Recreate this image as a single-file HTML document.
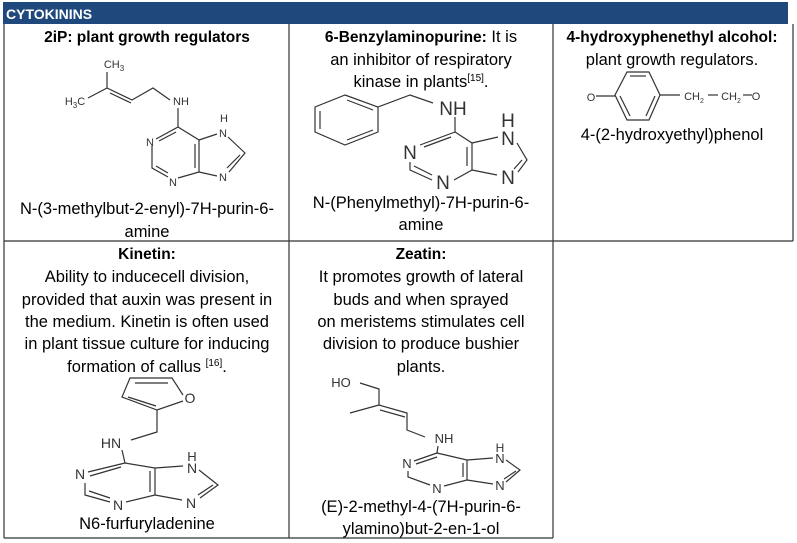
<!DOCTYPE html>
<html><head><meta charset="utf-8"><style>
html,body{margin:0;padding:0;background:#fff;}
svg{display:block;}
.t{font-family:"Liberation Sans",sans-serif;font-size:16.5px;fill:#000;text-anchor:middle;}
.b{font-weight:bold;font-size:15.5px;}
.m{font-family:"Liberation Sans",sans-serif;fill:#333;text-anchor:middle;}
line,polyline,polygon{stroke:#333;fill:none;stroke-width:1.2;}
</style></head><body>
<svg width="797" height="543" viewBox="0 0 797 543" xmlns="http://www.w3.org/2000/svg">
<rect x="3" y="2" width="785" height="22" fill="#1f497d"/>
<text x="6" y="19" font-family="Liberation Sans,sans-serif" font-size="14" font-weight="bold" fill="#fff">CYTOKININS</text>
<g style="stroke:#7f7f7f;stroke-width:1.5">
<line x1="4" y1="24" x2="4" y2="538"/>
<line x1="289" y1="24" x2="289" y2="538"/>
<line x1="553" y1="24" x2="553" y2="538"/>
<line x1="793" y1="24" x2="793" y2="241"/>
<line x1="4" y1="241" x2="793" y2="241"/>
<line x1="4" y1="538" x2="553" y2="538"/>
</g>

<!-- cell 1 -->
<text class="t b" x="147" y="42">2iP: plant growth regulators</text>
<text class="t" x="147" y="214">N-(3-methylbut-2-enyl)-7H-purin-6-</text>
<text class="t" x="147" y="237">amine</text>
<text class="m" x="114" y="68" font-size="11">CH<tspan font-size="8" dy="3">3</tspan></text>
<text class="m" x="75" y="105" font-size="11">H<tspan font-size="8" dy="3">3</tspan><tspan dy="-3">C</tspan></text>
<polyline points="107,72 107,88 88,98"/>
<polyline points="107,88 132,100 153,88 170,100"/>
<line x1="110" y1="93" x2="131" y2="103"/>
<text class="m" x="181" y="105" font-size="11">NH</text>
<text class="m" x="224" y="122" font-size="11">H</text>
<polyline points="178,108 178,127 156,139"/>
<line x1="176" y1="132" x2="159" y2="141"/>
<polyline points="152,146 152,168 168,177"/>
<line x1="156" y1="166" x2="168" y2="173"/>
<polyline points="178,178 199,172 199,140 178,127"/>
<line x1="195" y1="168" x2="195" y2="144"/>
<polyline points="199,140 217,134"/>
<polyline points="228,137 245,153 229,172"/>
<line x1="240" y1="155" x2="227" y2="168"/>
<line x1="199" y1="172" x2="217" y2="176"/>
<text class="m" x="150" y="146" font-size="11">N</text>
<text class="m" x="173" y="186" font-size="11">N</text>
<text class="m" x="223" y="181" font-size="11">N</text>
<text class="m" x="223" y="137" font-size="11">N</text>

<!-- cell 2 -->
<text class="t" x="421" y="42"><tspan font-weight="bold" font-size="15.5">6-Benzylaminopurine:</tspan>  It is</text>
<text class="t" x="421" y="65">an inhibitor of respiratory</text>
<text class="t" x="421" y="87">kinase in plants<tspan font-size="10" dy="-6">[15]</tspan><tspan dy="6">.</tspan></text>
<polygon points="345,95 378,107 378,132 345,145 315,132 315,107"/>
<line x1="320" y1="111" x2="320" y2="129"/>
<line x1="347" y1="140" x2="373" y2="130"/>
<line x1="347" y1="100" x2="373" y2="110"/>
<polyline points="378,107 410,95 433,103"/>
<text class="m" x="453" y="115" font-size="19" fill="#111">NH</text>
<text class="m" x="508" y="127" font-size="19" fill="#111">H</text>
<text class="m" x="410" y="159" font-size="19" fill="#111">N</text>
<text class="m" x="443" y="189" font-size="19" fill="#111">N</text>
<text class="m" x="508" y="145" font-size="19" fill="#111">N</text>
<text class="m" x="508" y="184" font-size="19" fill="#111">N</text>
<polyline points="455,117 455,132 420,145"/>
<line x1="451" y1="137" x2="424" y2="147"/>
<polyline points="410,162 410,170 432,180"/>
<line x1="414" y1="166" x2="432" y2="175"/>
<polyline points="454,180 472,170 472,143 455,132"/>
<line x1="467" y1="166" x2="467" y2="147"/>
<line x1="472" y1="143" x2="498" y2="137"/>
<polyline points="517,143 527,160 518,172"/>
<line x1="522" y1="160" x2="514" y2="169"/>
<line x1="472" y1="170" x2="497" y2="175"/>
<text class="t" x="421" y="208">N-(Phenylmethyl)-7H-purin-6-</text>
<text class="t" x="421" y="230">amine</text>

<!-- cell 3 -->
<text class="t b" x="672" y="42">4-hydroxyphenethyl alcohol:</text>
<text class="t" x="672" y="65">plant growth regulators.</text>
<text class="m" x="591" y="101" font-size="11">O</text>
<line x1="596" y1="96" x2="615" y2="96"/>
<polygon points="627,72 649,72 660,95 649,120 627,120 615,95"/>
<line x1="630" y1="76" x2="646" y2="76"/>
<line x1="620" y1="96" x2="630" y2="116"/>
<line x1="655" y1="96" x2="646" y2="116"/>
<line x1="660" y1="95" x2="680" y2="95"/>
<text class="m" x="694" y="100" font-size="11">CH<tspan font-size="7" dy="3">2</tspan></text>
<line x1="708" y1="95" x2="718" y2="95"/>
<text class="m" x="731" y="100" font-size="11">CH<tspan font-size="7" dy="3">2</tspan></text>
<line x1="743" y1="95" x2="752" y2="95"/>
<text class="m" x="756" y="100" font-size="11">O</text>
<text class="t" x="672" y="140">4-(2-hydroxyethyl)phenol</text>

<!-- cell 4 -->
<text class="t b" x="147" y="259">Kinetin:</text>
<text class="t" x="147" y="282">Ability to inducecell division,</text>
<text class="t" x="147" y="305">provided that auxin was present in</text>
<text class="t" x="147" y="327">the medium. Kinetin is often used</text>
<text class="t" x="147" y="349">in plant tissue culture for inducing</text>
<text class="t" x="147" y="372">formation of callus <tspan font-size="10" dy="-6">[16]</tspan><tspan dy="6">.</tspan></text>
<polyline points="183,395 172,378 130,378 122,397 157,410 183,401"/>
<line x1="135" y1="383" x2="168" y2="383"/>
<line x1="128" y1="397" x2="156" y2="406"/>
<text class="m" x="190" y="403" font-size="14" fill="#111">O</text>
<polyline points="157,410 157,432 131,440"/>
<text class="m" x="111" y="448" font-size="14" fill="#111">HN</text>
<text class="m" x="192" y="461" font-size="13" fill="#111">H</text>
<text class="m" x="192" y="473" font-size="14" fill="#111">N</text>
<text class="m" x="80" y="479" font-size="14" fill="#111">N</text>
<text class="m" x="118" y="510" font-size="14" fill="#111">N</text>
<text class="m" x="191" y="508" font-size="14" fill="#111">N</text>
<polyline points="122,450 125,463 88,472"/>
<line x1="121" y1="467" x2="90" y2="476"/>
<polyline points="85,483 85,495 110,502"/>
<line x1="89" y1="491" x2="110" y2="498"/>
<polyline points="126,502 155,495 155,468 125,463"/>
<line x1="150" y1="492" x2="150" y2="471"/>
<line x1="155" y1="468" x2="183" y2="466"/>
<polyline points="199,470 218,485 200,498"/>
<line x1="213" y1="485" x2="198" y2="495"/>
<line x1="155" y1="495" x2="182" y2="500"/>
<text class="t" x="147" y="529">N6-furfuryladenine</text>

<!-- cell 5 -->
<text class="t b" x="421" y="259">Zeatin:</text>
<text class="t" x="421" y="282">It promotes growth of lateral</text>
<text class="t" x="421" y="305">buds and when sprayed</text>
<text class="t" x="421" y="327">on meristems stimulates cell</text>
<text class="t" x="421" y="349">division to produce bushier</text>
<text class="t" x="421" y="372">plants.</text>
<text class="m" x="341" y="387" font-size="13" fill="#111">HO</text>
<polyline points="360,383 379,389 379,405 350,413"/>
<polyline points="379,405 407,413 407,430 425,437"/>
<line x1="380" y1="410" x2="405" y2="417"/>
<text class="m" x="444" y="443" font-size="13" fill="#111">NH</text>
<text class="m" x="500" y="452" font-size="12" fill="#111">H</text>
<text class="m" x="500" y="463" font-size="13" fill="#111">N</text>
<text class="m" x="407" y="468" font-size="13" fill="#111">N</text>
<text class="m" x="437" y="493" font-size="13" fill="#111">N</text>
<text class="m" x="500" y="490" font-size="13" fill="#111">N</text>
<polyline points="438,446 437,453 414,461"/>
<line x1="437" y1="457" x2="416" y2="464"/>
<polyline points="408,471 408,477 430,485"/>
<polyline points="444,486 467,480 467,460 437,453"/>
<line x1="463" y1="477" x2="463" y2="463"/>
<line x1="467" y1="460" x2="493" y2="458"/>
<polyline points="506,460 520,470 506,482"/>
<line x1="516" y1="471" x2="504" y2="479"/>
<line x1="467" y1="480" x2="493" y2="484"/>
<text class="t" x="421" y="512">(E)-2-methyl-4-(7H-purin-6-</text>
<text class="t" x="421" y="534">ylamino)but-2-en-1-ol</text>
</svg>
</body></html>
